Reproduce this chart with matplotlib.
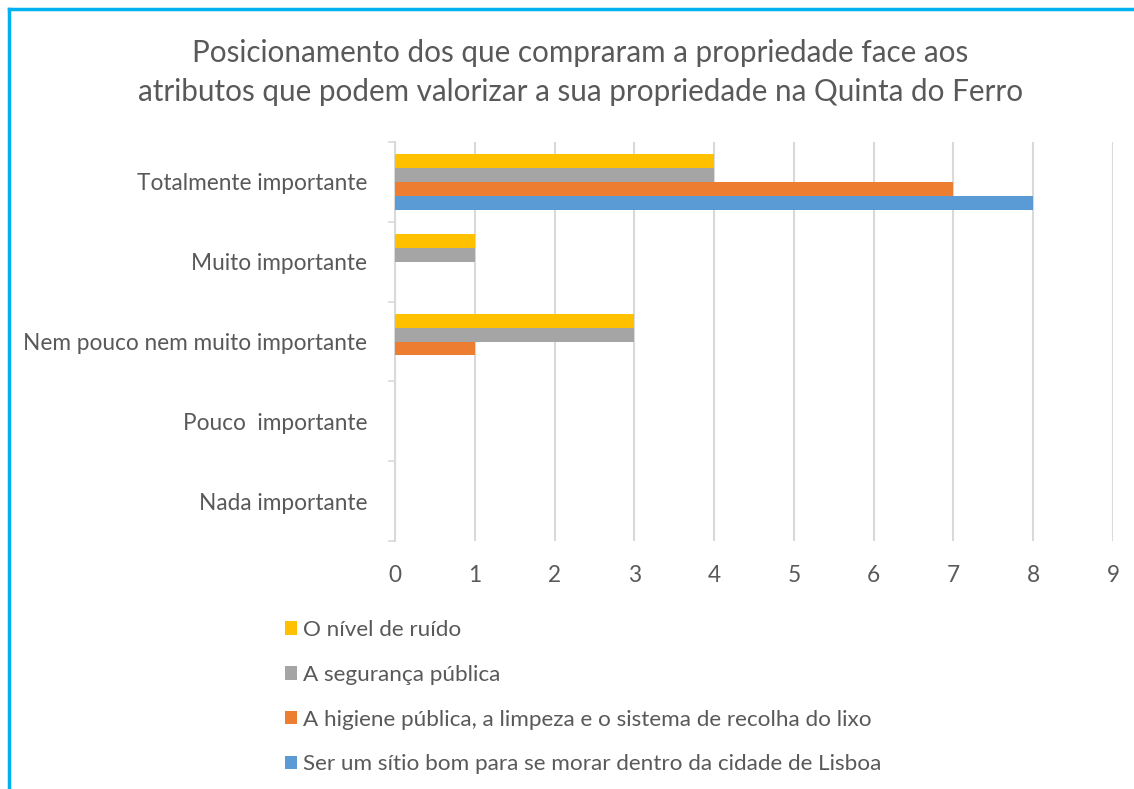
import matplotlib.pyplot as plt
from matplotlib.lines import Line2D
import numpy as np

plt.rcParams['font.family'] = ['Lato', 'DejaVu Sans']

# categories, bottom to top (Excel order)
categories = ['Nada importante', 'Pouco  importante', 'Nem pouco nem muito importante',
              'Muito importante', 'Totalmente importante']

series_names = ['Ser um sítio bom para se morar dentro da cidade de Lisboa',
                'A higiene pública, a limpeza e o sistema de recolha do lixo',
                'A segurança pública',
                'O nível de ruído']
sitio = [0, 0, 0, 0, 8]
higiene = [0, 0, 1, 0, 7]
seguranca = [0, 0, 3, 1, 4]
ruido = [0, 0, 3, 1, 4]
colors = ['#5B9BD5', '#ED7D31', '#A5A5A5', '#FFC000']

text_color = '#595959'
grid_color = '#D9D9D9'

fig = plt.figure(figsize=(11.34, 7.89), dpi=100)
ax = fig.add_axes([0.3483, 0.3143, 0.9815 - 0.3483, 0.820 - 0.3143])

y = np.arange(len(categories))
h = 0.175
values = [sitio, higiene, seguranca, ruido]
for i, (vals, name, c) in enumerate(zip(values, series_names, colors)):
    ax.barh(y + (i - 1.5) * h, vals, height=h, color=c, label=name, zorder=3)

ax.set_xlim(0, 9)
ax.set_ylim(-0.5, len(categories) - 0.5)
ax.set_xticks(range(10))
ax.set_yticks(y)
ax.set_yticklabels(categories)
ax.set_yticks(np.arange(-0.5, len(categories)), minor=True)
ax.tick_params(axis='y', which='major', length=0, pad=20, labelsize=16.3, labelcolor=text_color)
ax.tick_params(axis='y', which='minor', length=5, width=1.2, color=grid_color, direction='out')
ax.tick_params(axis='x', length=0, pad=17, labelsize=16.3, labelcolor=text_color)

ax.grid(axis='x', color=grid_color, linewidth=1.5, zorder=0)
for s in ['top', 'right', 'bottom']:
    ax.spines[s].set_visible(False)
ax.spines['left'].set_color(grid_color)
ax.spines['left'].set_linewidth(1.5)

fig.text(0.512, 0.908, 'Posicionamento dos que compraram a propriedade face aos\n'
         'atributos que podem valorizar a sua propriedade na Quinta do Ferro',
         ha='center', va='center', fontsize=21.3, color=text_color, linespacing=1.45)

handles, labels = ax.get_legend_handles_labels()
leg = fig.legend(handles[::-1], labels[::-1], loc='upper left',
                 bbox_to_anchor=(0.251, 0.214), frameon=False,
                 fontsize=16.2, labelcolor=text_color, handlelength=0.55,
                 handleheight=0.55, handletextpad=0.25, labelspacing=1.1,
                 borderaxespad=0, borderpad=0)

# light blue border, top and left only
fig.add_artist(Line2D([0.0075, 0.0075], [0, 0.9885], color='#00B0F0', lw=2.5,
                      transform=fig.transFigure))
fig.add_artist(Line2D([0.0075, 1.0], [0.9885, 0.9885], color='#00B0F0', lw=2.5,
                      transform=fig.transFigure))

fig.savefig('out.png', dpi=100)
